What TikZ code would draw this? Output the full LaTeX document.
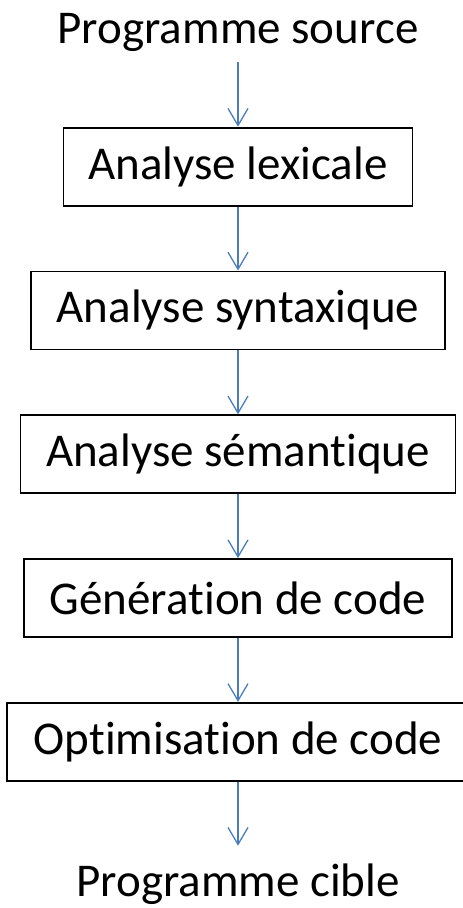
\documentclass[tikz,border=0pt]{standalone}
\usepackage{fontspec}
\setmainfont{Carlito}[Ligatures=NoCommon]
\usepackage{tikz}
\usetikzlibrary{arrows.meta,positioning}
\definecolor{linkblue}{HTML}{4A7EBB}

\begin{document}
\begin{tikzpicture}[->,>={Straight Barb[length=17pt,width=20pt]},auto,node distance=64pt,semithick]
\tikzstyle{every node}=[font=\fontsize{47}{54}\selectfont,text=black]
\tikzstyle{phase}=[draw=black,line width=1.8pt,minimum height=78pt]
\useasboundingbox (0,0) rectangle (463pt,-908pt);
\node[anchor=base] (src) at (238pt,-43pt) {Programme source};
\node[phase,minimum width=349pt][below=72pt of src](lex){Analyse lexicale};
\node[phase,minimum width=414pt][below=of lex](syn){Analyse syntaxique};
\node[phase,minimum width=435pt][below=of syn](sem){Analyse sémantique};
\node[phase,minimum width=428pt][below=of sem](gen){Génération de code};
\node[phase,minimum width=462pt][below=of gen](opt){Optimisation de code};
\node[below=79pt of opt](cib){Programme cible};
\path[draw=linkblue,line width=1.3pt]
        (src)edge[shorten <=7pt](lex)
        (lex)edge(syn)
        (syn)edge(sem)
        (sem)edge(gen)
        (gen)edge(opt)
        (opt)edge[shorten >=15pt](cib);
\end{tikzpicture}
\end{document}
